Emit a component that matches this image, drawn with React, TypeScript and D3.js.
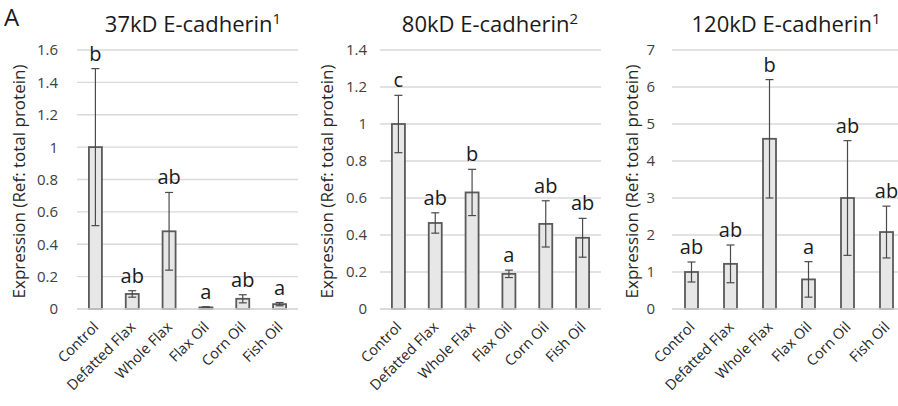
import React from "react";
import * as d3 from "d3";

// Treatment groups shown on every x axis
const categories = ["Control", "Defatted Flax", "Whole Flax", "Flax Oil", "Corn Oil", "Fish Oil"];

// 37kD E-cadherin: mean expression, error (SE) and significance letters
const kd37Means = [1.0, 0.093, 0.48, 0.01, 0.063, 0.03];
const kd37Errors = [0.485, 0.02, 0.24, 0.004, 0.025, 0.01];
const kd37Letters = ["b", "ab", "ab", "a", "ab", "a"];
const kd37Ticks = [0, 0.2, 0.4, 0.6, 0.8, 1, 1.2, 1.4, 1.6];

// 80kD E-cadherin
const kd80Means = [1.0, 0.465, 0.63, 0.19, 0.46, 0.385];
const kd80Errors = [0.155, 0.055, 0.125, 0.02, 0.125, 0.105];
const kd80Letters = ["c", "ab", "b", "a", "ab", "ab"];
const kd80Ticks = [0, 0.2, 0.4, 0.6, 0.8, 1, 1.2, 1.4];

// 120kD E-cadherin
const kd120Means = [1.0, 1.22, 4.6, 0.8, 3.0, 2.08];
const kd120Errors = [0.27, 0.51, 1.6, 0.48, 1.55, 0.7];
const kd120Letters = ["ab", "ab", "b", "a", "ab", "ab"];
const kd120Ticks = [0, 1, 2, 3, 4, 5, 6, 7];

const titles = ["37kD E-cadherin", "80kD E-cadherin", "120kD E-cadherin"];
const titleNotes = ["1", "2", "1"];
const yAxisTitle = "Expression (Ref: total protein)";

const FONT = "'Open Sans', 'Noto Sans', sans-serif";
const TOP = 50;
const BOTTOM = 309;
const BAR_W = 13;

type PanelProps = {
  title: string;
  note: string;
  means: number[];
  errors: number[];
  letters: string[];
  ticks: number[];
  x0: number;
  x1: number;
  tickX: number;
  labelX: number;
  titleX: number;
};

function Panel(p: PanelProps) {
  const yMax = p.ticks[p.ticks.length - 1];
  const y = d3.scaleLinear().domain([0, yMax]).range([BOTTOM, TOP]);
  const x = d3.scaleBand<string>().domain(categories).range([p.x0, p.x1]);
  const fmt = (v: number) => String(+v.toFixed(1));
  const midY = (TOP + BOTTOM) / 2 + 2;
  return (
    <g>
      {p.ticks.map((t) => (
        <g key={t}>
          <line x1={p.x0} x2={p.x1} y1={y(t)} y2={y(t)} stroke="#d9d9d9" strokeWidth={1.3} />
          <text x={p.tickX} y={y(t)} dy="0.36em" textAnchor="end" fontSize={15} fill="#404040">
            {fmt(t)}
          </text>
        </g>
      ))}
      {categories.map((c, i) => {
        const cx = (x(c) as number) + x.bandwidth() / 2;
        const m = p.means[i];
        const e = p.errors[i];
        const yt = y(m);
        return (
          <g key={c}>
            <rect
              x={cx - BAR_W / 2}
              y={yt}
              width={BAR_W}
              height={BOTTOM - yt}
              fill="#e7e7e7"
              stroke="#5a5a5a"
              strokeWidth={1.8}
            />
            <g stroke="#4a4a4a" strokeWidth={1.2}>
              <line x1={cx} x2={cx} y1={y(m + e)} y2={y(Math.max(0, m - e))} />
              <line x1={cx - 4} x2={cx + 4} y1={y(m + e)} y2={y(m + e)} />
              <line x1={cx - 4} x2={cx + 4} y1={y(Math.max(0, m - e))} y2={y(Math.max(0, m - e))} />
            </g>
            <text x={cx} y={y(m + e) - 8} textAnchor="middle" fontSize={20} fill="#1a1a1a">
              {p.letters[i]}
            </text>
            <text
              transform={`translate(${cx + 4},${BOTTOM + 19}) rotate(-45)`}
              textAnchor="end"
              fontSize={14.5}
              fill="#262626"
            >
              {c}
            </text>
          </g>
        );
      })}
      <line x1={p.x0} x2={p.x1} y1={BOTTOM} y2={BOTTOM} stroke="#d9d9d9" strokeWidth={1.5} />
      <text
        transform={`translate(${p.labelX},${midY}) rotate(-90)`}
        textAnchor="middle"
        dy="0.35em"
        fontSize={17}
        fill="#262626"
      >
        {yAxisTitle}
      </text>
      <text x={p.titleX} y={32} textAnchor="middle" fontSize={22} fill="#1a1a1a">
        {p.title}
        <tspan dy={-8} fontSize={15}>
          {p.note}
        </tspan>
      </text>
    </g>
  );
}

export default function App() {
  return (
    <svg width={898} height={406} style={{ display: "block", position: "absolute", left: 0, top: 0 }} fontFamily={FONT}>
      <rect width={898} height={406} fill="#ffffff" />
      <text x={4} y={26} fontSize={24} fill="#1a1a1a">
        A
      </text>
      <Panel
        title={titles[0]}
        note={titleNotes[0]}
        means={kd37Means}
        errors={kd37Errors}
        letters={kd37Letters}
        ticks={kd37Ticks}
        x0={77}
        x1={298}
        tickX={58}
        labelX={19}
        titleX={193}
      />
      <Panel
        title={titles[1]}
        note={titleNotes[1]}
        means={kd80Means}
        errors={kd80Errors}
        letters={kd80Letters}
        ticks={kd80Ticks}
        x0={380}
        x1={601}
        tickX={367}
        labelX={327}
        titleX={490}
      />
      <Panel
        title={titles[2]}
        note={titleNotes[2]}
        means={kd120Means}
        errors={kd120Errors}
        letters={kd120Letters}
        ticks={kd120Ticks}
        x0={672}
        x1={906}
        tickX={655}
        labelX={632}
        titleX={786}
      />
    </svg>
  );
}
